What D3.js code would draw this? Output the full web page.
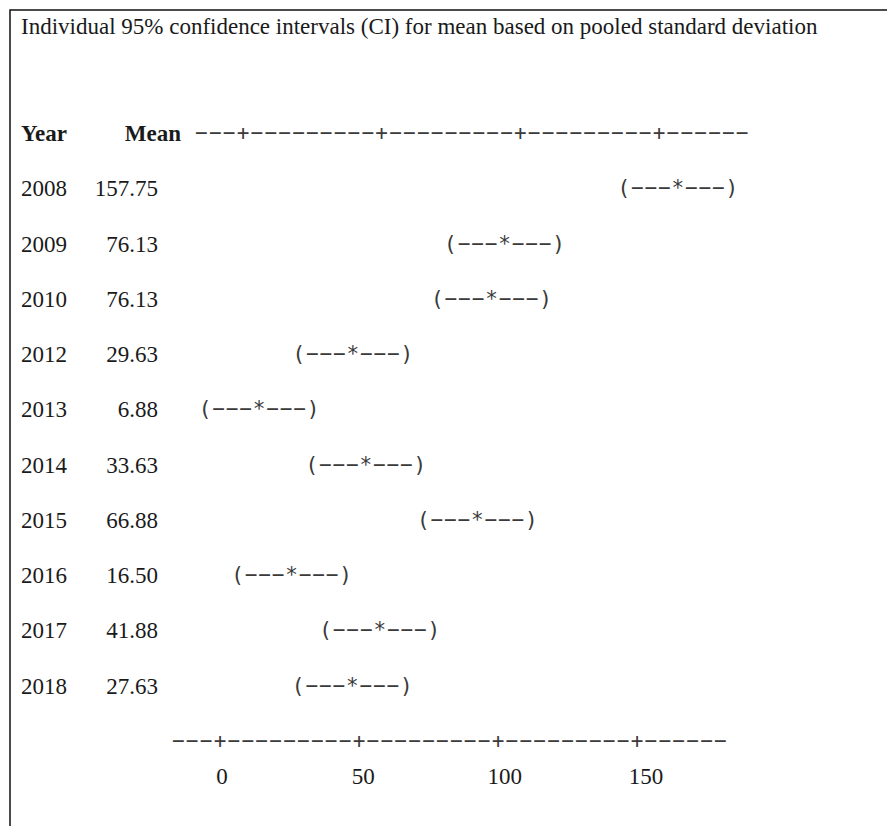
<!DOCTYPE html>
<html lang="en">
<head>
    <meta charset="UTF-8">
    <title>Individual 95% CIs for mean</title>
    <script src="https://d3js.org/d3.v7.min.js"></script>
    <style>
        body { margin: 0; padding: 0; background: #fff; }
        svg { display: block; }
        .serif { font-family: "Liberation Serif", "Times New Roman", serif; fill: #1a1a1a; }
        .mono { font-family: "DejaVu Sans Mono", monospace; fill: #3a3a3a; }
    </style>
</head>
<body>
<script>

    // Data
    const years = ["2008", "2009", "2010", "2012", "2013", "2014", "2015", "2016", "2017", "2018"];
    const means = [157.75, 76.13, 76.13, 29.63, 6.88, 33.63, 66.88, 16.50, 41.88, 27.63];
    // centre of each drawn interval, in axis units (as placed in the picture)
    const ciMid = [156.8, 94.3, 89.6, 39.6, 5.8, 44.3, 84.5, 17.5, 49.3, 39.4];
    const ciHalf = 19.5; // pooled SD -> same half width for all
    const tickValues = [0, 50, 100, 150];
    const axisRange = [-15, 180]; // text axis runs one char per 5 units

    const title = "Individual 95% confidence intervals (CI) for mean based on pooled standard deviation";

    const width = 887, height = 826;

    const svg = d3.select("body").append("svg")
        .attr("width", width)
        .attr("height", height);

    // frame (top + left edge only)
    svg.append("path")
        .attr("d", `M10,${height} L10,10 L${width},10`)
        .attr("fill", "none")
        .attr("stroke", "#111")
        .attr("stroke-width", 1.5);

    // scales
    const y = d3.scaleLinear().domain([-1, 10]).range([133, 741]);
    const xTop = d3.scaleLinear().domain([0, 150]).range([243, 659]);
    const xBot = d3.scaleLinear().domain([0, 150]).range([220, 637]);
    const xLab = d3.scaleLinear().domain([0, 150]).range([222, 646]);

    const fs = 23;

    svg.append("text")
        .attr("class", "serif")
        .attr("x", 21).attr("y", 34)
        .attr("font-size", fs)
        .text(title);

    // header
    svg.append("text").attr("class", "serif")
        .attr("x", 21).attr("y", y(-1) + 8)
        .attr("font-size", fs).attr("font-weight", "bold")
        .text("Year");
    svg.append("text").attr("class", "serif")
        .attr("x", 181).attr("y", y(-1) + 8)
        .attr("text-anchor", "end")
        .attr("font-size", fs).attr("font-weight", "bold")
        .text("Mean");

    // text-style axis: one character per 5 units, '+' at ticks
    const axisChars = d3.range(axisRange[0], axisRange[1] + 1, 5);
    function drawAxis(scale, yy) {
        svg.append("g").selectAll("text")
            .data(axisChars)
            .join("text")
            .attr("class", "mono")
            .attr("x", d => scale(d))
            .attr("y", yy)
            .attr("text-anchor", "middle")
            .attr("dominant-baseline", "central")
            .attr("font-size", 21)
            .text(d => tickValues.includes(d) ? "+" : "\u2212");
    }
    drawAxis(xTop, y(-1));
    drawAxis(xBot, y(10));

    svg.append("g").selectAll("text")
        .data(tickValues)
        .join("text")
        .attr("class", "serif")
        .attr("x", d => xLab(d))
        .attr("y", y(10) + 43)
        .attr("text-anchor", "middle")
        .attr("font-size", fs)
        .text(d => d);

    // rows
    const rows = years.map((yr, i) => ({ yr, mean: means[i], mid: ciMid[i], i }));

    const row = svg.append("g").selectAll("g")
        .data(rows)
        .join("g");

    row.append("text").attr("class", "serif")
        .attr("x", 21).attr("y", d => y(d.i) + 8)
        .attr("font-size", fs)
        .text(d => d.yr);

    row.append("text").attr("class", "serif")
        .attr("x", 158).attr("y", d => y(d.i) + 8)
        .attr("text-anchor", "end")
        .attr("font-size", fs)
        .text(d => d.mean.toFixed(2));

    // interval drawn as "(---*---)"
    const ciGlyphs = ["(", "\u2212", "\u2212", "\u2212", "*", "\u2212", "\u2212", "\u2212", ")"];
    row.each(function (d) {
        const lo = d.mid - ciHalf, step = (2 * ciHalf) / 8;
        d3.select(this).selectAll("text.ci")
            .data(ciGlyphs)
            .join("text")
            .attr("class", "mono ci")
            .attr("x", (c, k) => xTop(lo + k * step))
            .attr("y", y(d.i))
            .attr("text-anchor", "middle")
            .attr("dominant-baseline", "central")
            .attr("font-size", 21)
            .text(c => c);
    });

</script>
</body>
</html>
